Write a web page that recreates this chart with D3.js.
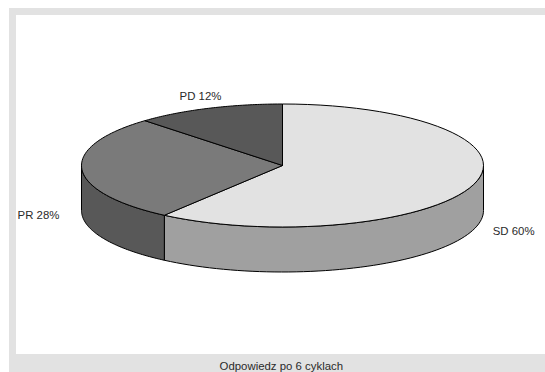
<!DOCTYPE html>
<html>
<head>
<meta charset="utf-8">
<script src="https://cdn.jsdelivr.net/npm/d3@7"></script>
<style>
  html, body { margin: 0; padding: 0; background: #fff; }
  svg { display: block; }
  text { font-family: "Liberation Sans", Arial, sans-serif; font-size: 11.4px; fill: #2a2a2a; }
</style>
</head>
<body>
<svg id="chart" width="545" height="372"></svg>
<script>
// Response after six cycles
const categories = ["SD", "PR", "PD"];
const percents = [60, 28, 12];
const topColors = ["#e2e2e2", "#7a7a7a", "#585858"];
const sideColors = ["#a0a0a0", "#585858", "#3c3c3c"];
const title = "Odpowiedz po 6 cyklach";

const width = 545, height = 372;
const cx = 282.5, cy = 165.5, rx = 201, ry = 61.5, depth = 45;

const svg = d3.select("#chart");

// Grey frame around the white plot area
svg.append("rect").attr("x", 9).attr("y", 8)
  .attr("width", width - 9).attr("height", height - 8).attr("fill", "#e2e2e2");
svg.append("rect").attr("x", 16).attr("y", 15)
  .attr("width", width - 16).attr("height", 339).attr("fill", "#fff");

const slices = d3.pie().sort(null).value(d => d)(percents)
  .map((s, i) => ({ ...s, name: categories[i], index: i }));

// Scales projecting the unit circle onto the tilted ellipse
const px = d3.scaleLinear().domain([-1, 1]).range([cx - rx, cx + rx]);
const py = d3.scaleLinear().domain([-1, 1]).range([cy - ry, cy + ry]);
const pointAt = (a, drop = 0) => [px(Math.sin(a)), py(-Math.cos(a)) + drop];
const sweep = (a0, a1) => d3.range(0, 61).map(k => a0 + (a1 - a0) * k / 60);
const line = d3.line();

// Outer wall: only the part of each slice on the near half of the rim
const nearStart = Math.PI / 2, nearEnd = Math.PI * 1.5;
slices.forEach(s => {
  const a0 = Math.max(s.startAngle, nearStart);
  const a1 = Math.min(s.endAngle, nearEnd);
  if (a1 <= a0) return;
  const angles = sweep(a0, a1);
  const outline = [
    ...angles.map(a => pointAt(a)),
    ...angles.slice().reverse().map(a => pointAt(a, depth))
  ];
  svg.append("path")
    .attr("d", line(outline) + "Z")
    .attr("fill", sideColors[s.index])
    .attr("stroke", "#000").attr("stroke-width", 1).attr("stroke-linejoin", "round");
});

// Top face of each slice
slices.forEach(s => {
  const outline = [[cx, cy], ...sweep(s.startAngle, s.endAngle).map(a => pointAt(a))];
  svg.append("path")
    .attr("d", line(outline) + "Z")
    .attr("fill", topColors[s.index])
    .attr("stroke", "#000").attr("stroke-width", 1).attr("stroke-linejoin", "round");
});

// Slice labels sit outside the rim, placed relative to each slice's mid-angle
const labelOffset = { SD: [40, 5.5], PR: [-43.4, 4.6], PD: [-8, -8.3] };
slices.forEach(s => {
  const mid = (s.startAngle + s.endAngle) / 2;
  const [x, y] = pointAt(mid, s.index < 2 ? depth : 0);
  const [dx, dy] = labelOffset[s.name];
  svg.append("text")
    .attr("class", "slice-label")
    .attr("x", x + dx).attr("y", y + dy)
    .attr("text-anchor", "middle")
    .text(`${s.name} ${s.value}%`);
});

svg.append("text")
  .attr("x", 281.3).attr("y", 369.5)
  .attr("text-anchor", "middle")
  .text(title);
</script>
</body>
</html>
